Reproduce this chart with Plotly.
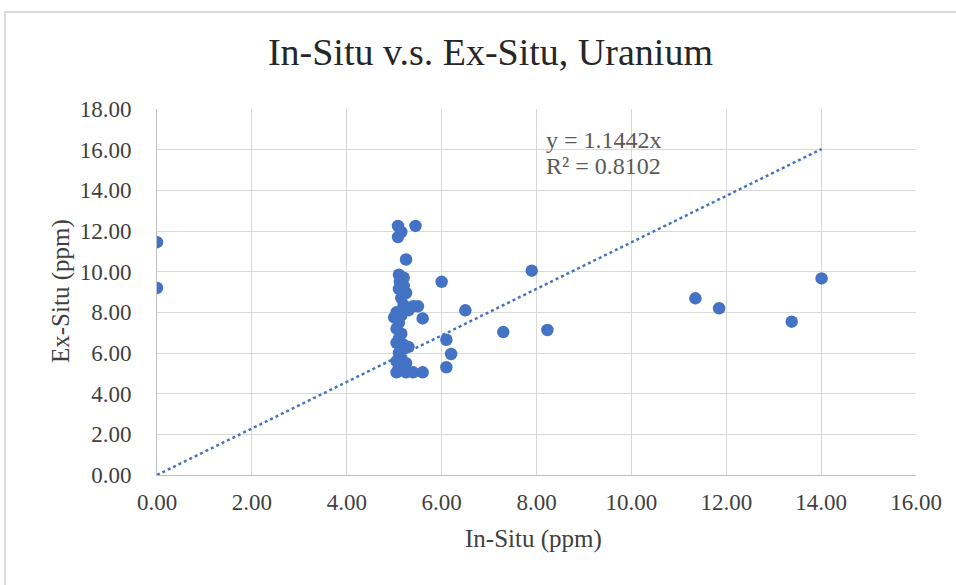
import plotly.graph_objects as go

# In-Situ (x) vs Ex-Situ (y), ppm
in_situ = [0.0, 0.0,
           5.08, 5.45, 5.15, 5.08, 5.25,
           5.10, 5.20, 5.12, 5.20, 5.10, 5.25, 5.15,
           5.20, 5.40, 5.50, 5.30, 5.05, 5.15, 5.00, 5.10, 5.05, 5.15, 5.10, 5.05, 5.20, 5.30,
           5.10, 5.15, 5.05, 5.25, 5.10, 5.20, 5.05, 5.25, 5.40, 5.60,
           5.60, 6.00, 6.50, 6.10, 6.20, 6.10,
           7.90, 7.30, 8.23, 11.35, 11.85, 13.38, 14.01]
ex_situ = [11.45, 9.20,
           12.25, 12.25, 11.95, 11.70, 10.60,
           9.85, 9.70, 9.50, 9.30, 9.15, 8.95, 8.70,
           8.35, 8.30, 8.30, 8.10, 8.00, 7.85, 7.75, 7.50, 7.20, 6.95, 6.70, 6.50, 6.40, 6.30,
           6.00, 5.75, 5.60, 5.50, 5.30, 5.20, 5.05, 5.05, 5.05, 5.05,
           7.70, 9.50, 8.10, 6.65, 5.95, 5.30,
           10.05, 7.03, 7.13, 8.69, 8.20, 7.54, 9.67]

slope = 1.1442
r2 = 0.8102
tick_vals_x = [0, 2, 4, 6, 8, 10, 12, 14, 16]
tick_vals_y = [0, 2, 4, 6, 8, 10, 12, 14, 16, 18]

trend_x = [0, max(in_situ)]
trend_y = [slope * v for v in trend_x]

FONT = "Liberation Serif, Times New Roman, serif"
BLUE = "#4472C4"
TXT = "#404040"

fig = go.Figure()
fig.add_trace(go.Scatter(x=in_situ, y=ex_situ, mode="markers",
                         marker=dict(color=BLUE, size=12.5), showlegend=False))
fig.add_trace(go.Scatter(x=trend_x, y=trend_y, mode="lines",
                         line=dict(color=BLUE, width=2.5, dash="dot"), showlegend=False))

fig.update_layout(
    width=956, height=585,
    margin=dict(l=157, r=40, t=109, b=110),
    paper_bgcolor="white", plot_bgcolor="white",
    font=dict(family=FONT, color=TXT, size=23),
    title=dict(text="In-Situ v.s. Ex-Situ, Uranium", x=0.513, xanchor="center",
               y=0.912, yanchor="middle",
               font=dict(family=FONT, size=38, color="#262626")),
    xaxis=dict(range=[0, 16], tickvals=tick_vals_x, tickformat=".2f",
               showgrid=True, gridcolor="#d9d9d9", gridwidth=1,
               zeroline=False, showline=True, linecolor="#bfbfbf", linewidth=1,
               ticks="", ticklabelstandoff=6,
               tickfont=dict(family=FONT, size=23, color=TXT)),
    yaxis=dict(range=[0, 18], tickvals=tick_vals_y, tickformat=".2f",
               showgrid=True, gridcolor="#d9d9d9", gridwidth=1,
               zeroline=False, showline=True, linecolor="#bfbfbf", linewidth=1,
               ticks="", ticklabelstandoff=20,
               tickfont=dict(family=FONT, size=23, color=TXT)),
)

# axis titles
fig.add_annotation(xref="paper", yref="paper", x=(533 - 157) / 759, y=(475 - 539) / 366,
                   xanchor="center", yanchor="middle", text="In-Situ (ppm)", showarrow=False,
                   font=dict(family=FONT, size=25, color=TXT))
fig.add_annotation(xref="paper", yref="paper", x=(61 - 157) / 759, y=(475 - 291) / 366,
                   xanchor="center", yanchor="middle", text="Ex-Situ (ppm)", showarrow=False,
                   textangle=-90, font=dict(family=FONT, size=25, color=TXT))

# trendline label
fig.add_annotation(xref="x", yref="y", x=8.15, y=16.5, xanchor="left", yanchor="middle",
                   text=f"y = {slope:.4f}x", showarrow=False,
                   font=dict(family=FONT, size=24, color="#595959"))
fig.add_annotation(xref="x", yref="y", x=8.15, y=15.2, xanchor="left", yanchor="middle",
                   text=f"R² = {r2:.4f}", showarrow=False,
                   font=dict(family=FONT, size=24, color="#595959"))

# outer chart border
fig.add_shape(type="rect", xref="paper", yref="paper",
              x0=(5 - 157) / 759, x1=(990 - 157) / 759,
              y0=(475 - 620) / 366, y1=(475 - 12) / 366,
              line=dict(color="#d9d9d9", width=2), layer="below")

fig.write_html("out.html")
